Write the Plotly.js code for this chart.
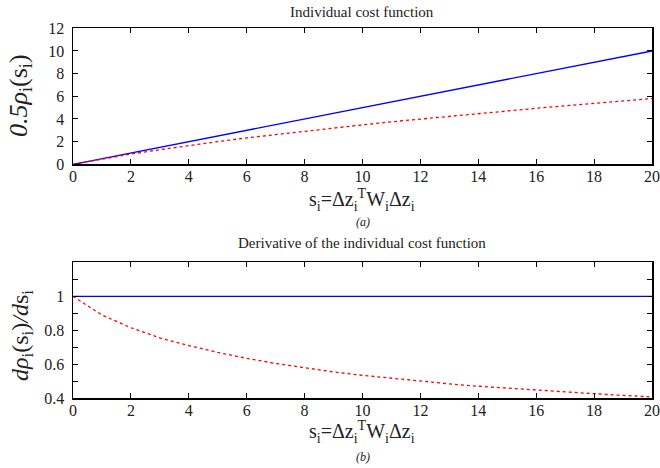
<!DOCTYPE html>
<html><head><meta charset="utf-8">
<script src="https://cdn.plot.ly/plotly-3.0.1.min.js"></script>
<style>html,body{margin:0;padding:0;background:#fff}#chart{width:660px;height:468px}</style>
</head><body><div id="chart"></div>
<script>
// Values
var s = [0, 1, 2, 3, 4, 5, 6, 7, 8, 9, 10, 11, 12, 13, 14, 15, 16, 17, 18, 19, 20];
var costQuad = [0, 0.5, 1, 1.5, 2, 2.5, 3, 3.5, 4, 4.5, 5, 5.5, 6, 6.5, 7, 7.5, 8, 8.5, 9, 9.5, 10];
var costRobust = [0, 0.47, 0.9, 1.29, 1.66, 2.0, 2.33, 2.63, 2.93, 3.21, 3.48, 3.75, 4.0, 4.25, 4.49, 4.72, 4.94, 5.16, 5.38, 5.59, 5.8];
var derivQuad = [1, 1, 1, 1, 1, 1, 1, 1, 1, 1, 1, 1, 1, 1, 1, 1, 1, 1, 1, 1, 1];
var derivRobust = [1, 0.89, 0.815, 0.755, 0.71, 0.67, 0.635, 0.605, 0.58, 0.555, 0.535, 0.517, 0.5, 0.485, 0.471, 0.459, 0.447, 0.437, 0.427, 0.417, 0.408];
var xTicks = [0, 2, 4, 6, 8, 10, 12, 14, 16, 18, 20];
var yTicksTop = [0, 2, 4, 6, 8, 10, 12];
var yTicksBottom = [0.4, 0.5, 0.6, 0.7, 0.8, 0.9, 1.0, 1.1, 1.2];
var yTickTextBottom = ['0.4', '', '0.6', '', '0.8', '', '1', '', ''];

var blue = '#0000ff', red = '#ff0000';
var traces = [
  {x: s, y: costQuad, type: 'scatter', mode: 'lines', line: {color: blue, width: 1.3}, xaxis: 'x', yaxis: 'y'},
  {x: s, y: costRobust, type: 'scatter', mode: 'lines', line: {color: red, width: 1.3, dash: '3px,3px'}, xaxis: 'x', yaxis: 'y'},
  {x: s, y: derivQuad, type: 'scatter', mode: 'lines', line: {color: blue, width: 1.3}, xaxis: 'x2', yaxis: 'y2'},
  {x: s, y: derivRobust, type: 'scatter', mode: 'lines', line: {color: red, width: 1.3, dash: '3px,3px'}, xaxis: 'x2', yaxis: 'y2'}
];

var serif = 'Liberation Serif';
function ax(extra) {
  var base = {
    showgrid: false, zeroline: false, showline: true, linecolor: '#000', linewidth: 1.5,
    mirror: 'ticks', ticks: 'inside', ticklen: 5, tickwidth: 1, tickcolor: '#000',
    ticklabeloverflow: 'allow',
    tickfont: {family: serif, size: 16, color: '#222'}
  };
  return Object.assign(base, extra);
}
function ann(text, x, y, size, angle) {
  return {text: text, xref: 'paper', yref: 'paper', x: x / 660, y: 1 - y / 468,
          xanchor: 'center', yanchor: 'middle', showarrow: false, textangle: angle || 0,
          font: {family: serif, size: size, color: '#222'}};
}
var xd = [73/660, 652/660];
var layout = {
  width: 660, height: 468, showlegend: false,
  font: {family: serif, color: '#222'},
  paper_bgcolor: '#fff', plot_bgcolor: '#fff',
  margin: {l: 0, r: 0, t: 0, b: 0},
  xaxis: ax({domain: xd, range: [0, 20], tickvals: xTicks, anchor: 'y', ticklabelstandoff: -3}),
  yaxis: ax({domain: [1 - 164.3/468, 1 - 28.3/468], range: [0, 12], tickvals: yTicksTop, anchor: 'x', ticklabelstandoff: 4}),
  xaxis2: ax({domain: xd, range: [0, 20], tickvals: xTicks, anchor: 'y2', ticklabelstandoff: -3}),
  yaxis2: ax({domain: [1 - 398.3/468, 1 - 262.3/468], range: [0.4, 1.2], tickvals: yTicksBottom, ticktext: yTickTextBottom, anchor: 'x2', ticklabelstandoff: 4}),
  annotations: [
    ann('Individual cost function', 362, 12, 15),
    ann('Derivative of the individual cost function', 362, 243, 15),
    ann('s<sub>i</sub>=Δz<sub>i</sub><sup>T</sup>W<sub>i</sub>Δz<sub>i</sub>', 362, 200, 20),
    ann('s<sub>i</sub>=Δz<sub>i</sub><sup>T</sup>W<sub>i</sub>Δz<sub>i</sub>', 362, 432, 20),
    ann('<i>(a)</i>', 363, 222, 12),
    ann('<i>(b)</i>', 363, 457, 12),
    ann('<i>0.5ρ</i><sub>i</sub>(s<sub>i</sub>)', 20, 96, 26, -90),
    ann('<i>dρ</i><sub>i</sub>(s<sub>i</sub>)<i>/d</i>s<sub>i</sub>', 22, 336, 24, -90)
  ]
};
Plotly.newPlot('chart', traces, layout, {staticPlot: true, displayModeBar: false});
</script>
</body></html>
